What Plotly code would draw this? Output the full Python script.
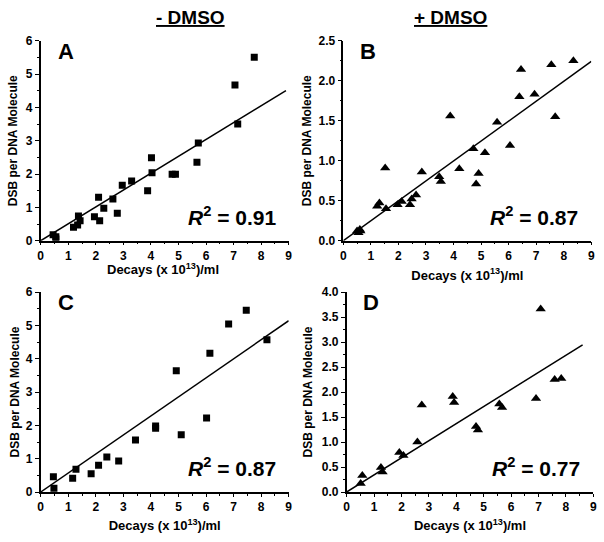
import plotly.graph_objects as go

# ---- data ----
a_x = [0.45, 0.55, 0.55, 1.19, 1.34, 1.37, 1.43, 1.95, 2.10, 2.14, 2.29, 2.62, 2.78, 2.96, 3.30, 3.88, 4.02, 4.04, 4.77, 4.89, 5.67, 5.72, 7.05, 7.15, 7.75]
a_y = [0.18, 0.12, 0.05, 0.40, 0.47, 0.74, 0.60, 0.72, 1.30, 0.60, 0.97, 1.25, 0.82, 1.66, 1.79, 1.50, 2.49, 2.04, 1.99, 1.99, 2.35, 2.93, 4.67, 3.50, 5.50]

b_x = [0.50, 0.55, 0.62, 0.60, 1.23, 1.31, 1.52, 1.55, 1.97, 2.12, 2.42, 2.48, 2.64, 2.85, 3.48, 3.54, 3.88, 4.21, 4.72, 4.82, 4.91, 5.14, 5.58, 6.05, 6.39, 6.45, 6.94, 7.55, 7.69, 8.35]
b_y = [0.12, 0.10, 0.12, 0.14, 0.43, 0.47, 0.91, 0.40, 0.45, 0.49, 0.45, 0.52, 0.57, 0.86, 0.80, 0.74, 1.56, 0.90, 1.15, 0.71, 0.84, 1.10, 1.48, 1.19, 1.80, 2.14, 1.83, 2.20, 1.55, 2.25]

c_x = [0.46, 0.48, 1.16, 1.28, 1.83, 2.10, 2.40, 2.83, 3.44, 4.17, 4.17, 4.92, 5.10, 6.02, 6.14, 6.82, 7.46, 8.21]
c_y = [0.46, 0.11, 0.41, 0.68, 0.55, 0.80, 1.05, 0.93, 1.56, 1.98, 1.91, 3.64, 1.72, 2.22, 4.16, 5.04, 5.45, 4.57]

d_x = [0.51, 0.57, 1.25, 1.31, 1.92, 2.07, 2.58, 2.74, 3.87, 3.92, 4.72, 4.79, 5.57, 5.67, 6.91, 7.08, 7.59, 7.83]
d_y = [0.17, 0.33, 0.49, 0.40, 0.79, 0.73, 1.00, 1.74, 1.91, 1.79, 1.31, 1.24, 1.76, 1.69, 1.87, 3.66, 2.25, 2.27]

# linear fits through origin: slope and end x
fit_slope = {"A": 0.506, "B": 0.249, "C": 0.571, "D": 0.342}
fit_xend = {"A": 8.9, "B": 9.0, "C": 9.0, "D": 8.61}
r2_labels = {"A": "0.91", "B": "0.87", "C": "0.87", "D": "0.77"}
panel_letters = ["A", "B", "C", "D"]
col_titles = ["- DMSO", "+ DMSO"]
y_max = {"A": 6, "B": 2.5, "C": 6, "D": 4.0}
y_dtick = {"A": 1, "B": 0.5, "C": 1, "D": 0.5}
x_title = "Decays (x 10<sup>13</sup>)/ml"
y_title = "DSB per DNA Molecule"

W, H = 604, 542
FONT = "Arial, Liberation Sans, sans-serif"

# plot-area pixel boxes (x0, x1, ytop, ybottom)
boxes = {
    "A": (40.7, 288.7, 40.7, 240.7),
    "B": (343.3, 591.3, 40.7, 240.7),
    "C": (40.7, 288.7, 292.0, 492.0),
    "D": (346.7, 593.3, 292.0, 492.0),
}
y_standoff = {"A": 6, "B": 4, "C": 4, "D": 7}
x_standoff = {"B": 9, "C": 8, "D": 8}
data = {"A": (a_x, a_y, "square"), "B": (b_x, b_y, "triangle-up"),
        "C": (c_x, c_y, "square"), "D": (d_x, d_y, "triangle-up")}

fig = go.Figure()
layout = dict(width=W, height=H, margin=dict(l=0, r=0, t=0, b=0),
              paper_bgcolor="white", plot_bgcolor="white", showlegend=False,
              font=dict(family=FONT, color="black"))
annotations = []
xtitle_font = dict(family=FONT, size=13, color="black", weight="bold")

for i, p in enumerate(panel_letters):
    n = "" if i == 0 else str(i + 1)
    x0, x1, yt, yb = boxes[p]
    xs, ys, sym = data[p]
    fig.add_trace(go.Scatter(x=xs, y=ys, mode="markers", xaxis="x" + n, yaxis="y" + n,
                             marker=dict(symbol=sym, size=7 if sym == "square" else 9, color="black",
                                         line=dict(width=0))))
    xe = fit_xend[p]
    fig.add_trace(go.Scatter(x=[0, xe], y=[0, fit_slope[p] * xe], mode="lines",
                             xaxis="x" + n, yaxis="y" + n,
                             line=dict(color="black", width=1.5)))
    tickfont = dict(family=FONT, size=12, color="black", weight="bold")
    xaxis = dict(
        domain=[x0 / W, x1 / W], anchor="y" + n, range=[0, 9], dtick=1, automargin=False,
        showgrid=False, zeroline=False, showline=True, linecolor="black", linewidth=1.5,
        ticks="outside", ticklen=3, tickwidth=1.2, tickcolor="black",
        minor=dict(ticks="outside", ticklen=2, dtick=0.5, tickcolor="black", showgrid=False),
        tickfont=tickfont)
    if p == "A":
        # title of panel A sits tight under its tick labels
        annotations.append(dict(text="<b>%s</b>" % x_title, xref="x domain", yref="paper",
                                x=0.495, y=1 - 269 / H, xanchor="center", yanchor="middle",
                                showarrow=False, font=xtitle_font))
    else:
        xaxis["title"] = dict(text=x_title, standoff=x_standoff[p], font=xtitle_font)
    layout["xaxis" + n] = xaxis
    ymx = y_max[p]
    layout["yaxis" + n] = dict(
        domain=[1 - yb / H, 1 - yt / H], anchor="x" + n, range=[0, ymx], dtick=y_dtick[p],
        tickformat=".1f" if y_dtick[p] < 1 else "d", automargin=False,
        showgrid=False, zeroline=False, showline=True, linecolor="black", linewidth=1.5,
        ticks="outside", ticklen=4, tickwidth=1.2, tickcolor="black",
        minor=dict(ticks="outside", ticklen=2, dtick=y_dtick[p] / 2, tickcolor="black", showgrid=False),
        tickfont=tickfont,
        title=dict(text=y_title, standoff=y_standoff[p],
                   font=dict(family=FONT, size=12, color="black", weight="bold")))
    # panel letter
    annotations.append(dict(text="<b>%s</b>" % p, xref="x%s domain" % n, yref="y%s domain" % n,
                            x=0.06, y=1.02, xanchor="left", yanchor="top", showarrow=False,
                            font=dict(family=FONT, size=22, color="black")))
    # R^2
    annotations.append(dict(text="<b><i>R</i><sup>2</sup> = %s</b>" % r2_labels[p],
                            xref="x%s domain" % n, yref="y%s domain" % n,
                            x=0.955, y=0.05, xanchor="right", yanchor="bottom", showarrow=False,
                            font=dict(family=FONT, size=21, color="black")))

# column titles
for xc, t in zip([190, 450], col_titles):
    annotations.append(dict(text="<b><u>%s</u></b>" % t, xref="paper", yref="paper",
                            x=xc / W, y=1 - 17 / H, xanchor="center", yanchor="middle",
                            showarrow=False, font=dict(family=FONT, size=19, color="black")))

layout["annotations"] = annotations
fig.update_layout(**layout)
fig.write_html("out.html", config={"displayModeBar": False},
               post_script="document.body.style.margin='0';")
